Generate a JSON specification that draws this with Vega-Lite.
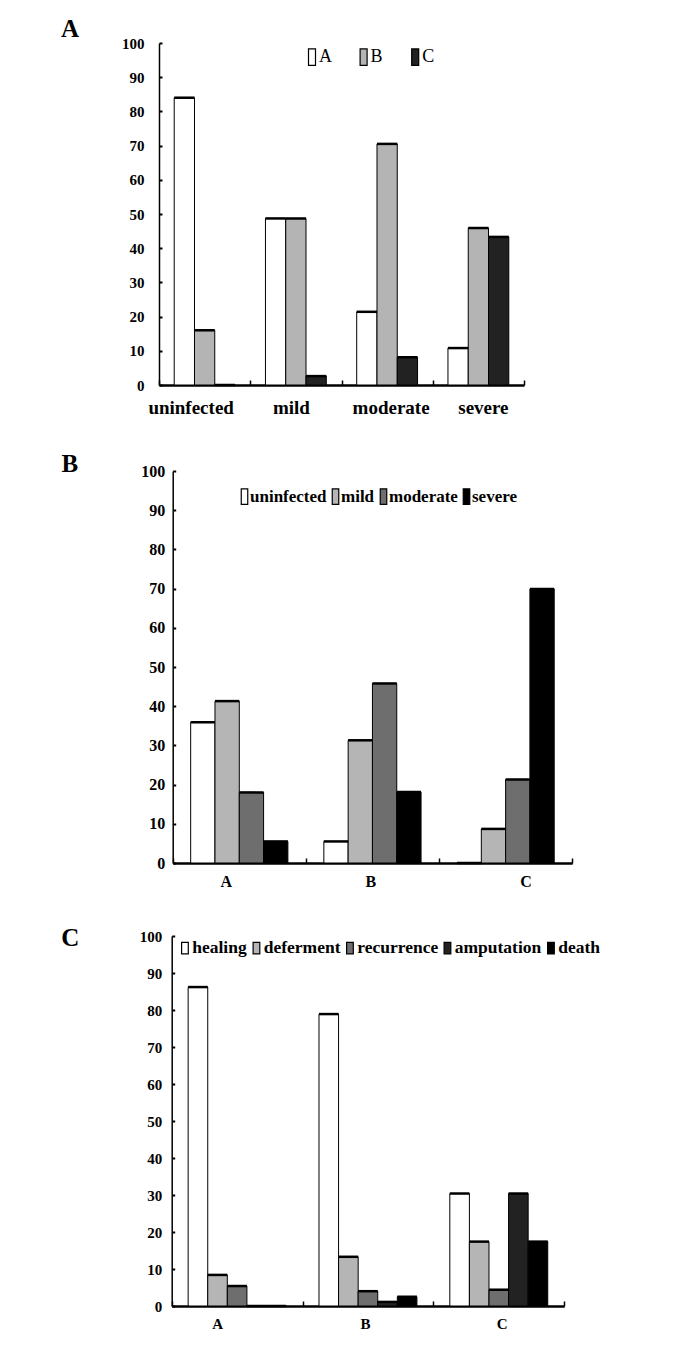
{
  "$schema": "https://vega.github.io/schema/vega-lite/v6.json",
  "padding": {"left": 60, "top": 16, "right": 0, "bottom": 0},
  "columns": 1,
  "align": "none",
  "spacing": 33,
  "resolve": {
    "scale": {"x": "independent", "y": "independent", "xOffset": "independent", "fill": "independent"},
    "axis": {"x": "independent", "y": "independent"},
    "legend": {"fill": "independent"}
  },
  "datasets": {
    "panelA": [
      {"group": "uninfected", "series": "A", "value": 84.0},
      {"group": "uninfected", "series": "B", "value": 16.0},
      {"group": "uninfected", "series": "C", "value": 0},
      {"group": "mild", "series": "A", "value": 48.7},
      {"group": "mild", "series": "B", "value": 48.7},
      {"group": "mild", "series": "C", "value": 2.6},
      {"group": "moderate", "series": "A", "value": 21.4},
      {"group": "moderate", "series": "B", "value": 70.5},
      {"group": "moderate", "series": "C", "value": 8.1},
      {"group": "severe", "series": "A", "value": 10.8},
      {"group": "severe", "series": "B", "value": 45.9},
      {"group": "severe", "series": "C", "value": 43.3}
    ],
    "panelB": [
      {"group": "A", "series": "uninfected", "value": 35.9},
      {"group": "A", "series": "mild", "value": 41.3},
      {"group": "A", "series": "moderate", "value": 18.0},
      {"group": "A", "series": "severe", "value": 5.5},
      {"group": "B", "series": "uninfected", "value": 5.5},
      {"group": "B", "series": "mild", "value": 31.3},
      {"group": "B", "series": "moderate", "value": 45.8},
      {"group": "B", "series": "severe", "value": 18.1},
      {"group": "C", "series": "uninfected", "value": 0},
      {"group": "C", "series": "mild", "value": 8.7},
      {"group": "C", "series": "moderate", "value": 21.3},
      {"group": "C", "series": "severe", "value": 69.9}
    ],
    "panelC": [
      {"group": "A", "series": "healing", "value": 86.2},
      {"group": "A", "series": "deferment", "value": 8.4},
      {"group": "A", "series": "recurrence", "value": 5.4},
      {"group": "A", "series": "amputation", "value": 0},
      {"group": "A", "series": "death", "value": 0},
      {"group": "B", "series": "healing", "value": 78.9},
      {"group": "B", "series": "deferment", "value": 13.3},
      {"group": "B", "series": "recurrence", "value": 4.0},
      {"group": "B", "series": "amputation", "value": 1.1},
      {"group": "B", "series": "death", "value": 2.5},
      {"group": "C", "series": "healing", "value": 30.4},
      {"group": "C", "series": "deferment", "value": 17.4},
      {"group": "C", "series": "recurrence", "value": 4.4},
      {"group": "C", "series": "amputation", "value": 30.4},
      {"group": "C", "series": "death", "value": 17.4}
    ]
  },
  "concat": [
    {
      "width": 365,
      "height": 342,
      "data": {"name": "panelA"},
      "encoding": {
        "x": {
          "field": "group", "type": "nominal",
          "sort": ["uninfected", "mild", "moderate", "severe"],
          "scale": {"paddingInner": 0, "paddingOuter": 0},
          "axis": {
            "title": null, "labelAngle": 0, "tickBand": "extent",
            "labelOffset": {
              "condition": [
                {"test": "datum.value === 'uninfected'", "value": -14},
                {"test": "datum.value === 'mild'", "value": -5},
                {"test": "datum.value === 'moderate'", "value": 3.5}
              ],
              "value": 4.5
            },
            "tickSize": -5, "tickWidth": 1.5, "tickColor": "black", "labelPadding": 18.7,
            "labelFont": "Liberation Serif", "labelFontSize": 19, "labelFontWeight": "bold", "labelColor": "black",
            "domainColor": "black", "domainWidth": 2.5
          }
        },
        "xOffset": {
          "field": "series", "type": "nominal", "sort": ["A", "B", "C"],
          "scale": {"paddingInner": 0, "paddingOuter": 0.75}
        },
        "y": {
          "field": "value", "type": "quantitative",
          "scale": {"domain": [0, 100], "nice": false},
          "axis": {
            "values": [0, 10, 20, 30, 40, 50, 60, 70, 80, 90, 100],
            "title": "A", "titleAngle": 0, "titleAlign": "left", "titleBaseline": "alphabetic",
            "titleX": -98.6, "titleY": -6.3, "titleFont": "Liberation Serif", "titleFontSize": 25,
            "titleFontWeight": "bold", "titleColor": "black",
            "labelFont": "Liberation Serif", "labelFontSize": 15, "labelFontWeight": "bold", "labelColor": "black",
            "tickSize": -3, "tickWidth": 2, "tickColor": "black", "labelPadding": 18,
            "domainColor": "black", "domainWidth": 1.5, "grid": false
          }
        }
      },
      "layer": [
        {
          "mark": {"type": "bar", "stroke": "black", "strokeWidth": 1},
          "encoding": {
            "fill": {
              "field": "series", "type": "nominal",
              "scale": {"domain": ["A", "B", "C"], "range": ["#ffffff", "#b4b4b4", "#222222"]},
              "legend": {
                "title": null, "orient": "none", "legendX": 144, "legendY": 5, "direction": "horizontal",
                "columns": 3, "symbolType": "M-1,-2.35H1V2.35H-1Z", "symbolSize": 49,
                "symbolStrokeColor": "black", "symbolStrokeWidth": 1.2, "symbolOpacity": 1,
                "labelFont": "Liberation Serif", "labelFontSize": 18, "labelFontWeight": "normal",
                "labelColor": "black", "labelOffset": -2, "columnPadding": 22.6, "gridAlign": "all", "padding": 0
              }
            }
          }
        },
        {"mark": {"type": "tick", "color": "black", "thickness": 2.5, "size": 20.3, "opacity": 1}}
      ]
    },
    {
      "width": 413.2,
      "height": 392,
      "data": {"name": "panelB"},
      "encoding": {
        "x": {
          "field": "group", "type": "nominal", "sort": ["A", "B", "C"],
          "scale": {"paddingInner": 0, "paddingOuter": 0, "range": [13.7, 413.2]},
          "axis": {
            "title": null, "labelAngle": 0, "tickBand": "extent", "minExtent": 29,
            "labelOffset": {
              "condition": [
                {"test": "datum.value === 'A'", "value": -13.5},
                {"test": "datum.value === 'B'", "value": -2}
              ],
              "value": 20
            },
            "tickSize": -5, "tickWidth": 1.5, "tickColor": "black", "labelPadding": 15,
            "labelFont": "Liberation Serif", "labelFontSize": 16, "labelFontWeight": "bold", "labelColor": "black",
            "domainColor": "black", "domainWidth": 2.5
          }
        },
        "xOffset": {
          "field": "series", "type": "nominal", "sort": ["uninfected", "mild", "moderate", "severe"],
          "scale": {"paddingInner": 0, "paddingOuter": 0.74}
        },
        "y": {
          "field": "value", "type": "quantitative",
          "scale": {"domain": [0, 100], "nice": false},
          "axis": {
            "values": [0, 10, 20, 30, 40, 50, 60, 70, 80, 90, 100], "offset": -13.7,
            "title": "B", "titleAngle": 0, "titleAlign": "left", "titleBaseline": "alphabetic",
            "titleX": -111.7, "titleY": 0, "titleFont": "Liberation Serif", "titleFontSize": 25,
            "titleFontWeight": "bold", "titleColor": "black",
            "labelFont": "Liberation Serif", "labelFontSize": 16, "labelFontWeight": "bold", "labelColor": "black",
            "tickSize": -3, "tickWidth": 2, "tickColor": "black", "labelPadding": 11,
            "domainColor": "black", "domainWidth": 1.5, "grid": false
          }
        }
      },
      "layer": [
        {
          "mark": {"type": "bar", "stroke": "black", "strokeWidth": 1},
          "encoding": {
            "fill": {
              "field": "series", "type": "nominal",
              "scale": {"domain": ["uninfected", "mild", "moderate", "severe"], "range": ["#ffffff", "#b5b5b5", "#6e6e6e", "#000000"]},
              "legend": {
                "title": null, "orient": "none", "legendX": 77, "legendY": 17, "direction": "horizontal",
                "columns": 4, "symbolType": "M-1,-2.4H1V2.4H-1Z", "symbolSize": 42.25,
                "symbolStrokeColor": "black", "symbolStrokeWidth": 1.2, "symbolOpacity": 1,
                "labelFont": "Liberation Serif", "labelFontSize": 17, "labelFontWeight": "bold",
                "labelColor": "black", "labelOffset": -3, "columnPadding": 0, "padding": 0
              }
            }
          }
        },
        {"mark": {"type": "tick", "color": "black", "thickness": 2.5, "size": 24.3, "opacity": 1}}
      ]
    },
    {
      "width": 405.2,
      "height": 370,
      "data": {"name": "panelC"},
      "encoding": {
        "x": {
          "field": "group", "type": "nominal", "sort": ["A", "B", "C"],
          "scale": {"paddingInner": 0, "paddingOuter": 0, "range": [12.7, 405.2]},
          "axis": {
            "title": null, "labelAngle": 0, "tickBand": "extent",
            "labelOffset": {
              "condition": [
                {"test": "datum.value === 'A'", "value": -20},
                {"test": "datum.value === 'B'", "value": -3}
              ],
              "value": 3
            },
            "tickSize": -5, "tickWidth": 1.5, "tickColor": "black", "labelPadding": 15,
            "labelFont": "Liberation Serif", "labelFontSize": 15, "labelFontWeight": "bold", "labelColor": "black",
            "domainColor": "black", "domainWidth": 2.5
          }
        },
        "xOffset": {
          "field": "series", "type": "nominal", "sort": ["healing", "deferment", "recurrence", "amputation", "death"],
          "scale": {"paddingInner": 0, "paddingOuter": 0.84}
        },
        "y": {
          "field": "value", "type": "quantitative",
          "scale": {"domain": [0, 100], "nice": false},
          "axis": {
            "values": [0, 10, 20, 30, 40, 50, 60, 70, 80, 90, 100], "offset": -12.7,
            "title": "C", "titleAngle": 0, "titleAlign": "left", "titleBaseline": "alphabetic",
            "titleX": -111, "titleY": 9.3, "titleFont": "Liberation Serif", "titleFontSize": 25,
            "titleFontWeight": "bold", "titleColor": "black",
            "labelFont": "Liberation Serif", "labelFontSize": 15, "labelFontWeight": "bold", "labelColor": "black",
            "tickSize": -3, "tickWidth": 2, "tickColor": "black", "labelPadding": 13,
            "domainColor": "black", "domainWidth": 1.5, "grid": false
          }
        }
      },
      "layer": [
        {
          "mark": {"type": "bar", "stroke": "black", "strokeWidth": 1},
          "encoding": {
            "fill": {
              "field": "series", "type": "nominal",
              "scale": {"domain": ["healing", "deferment", "recurrence", "amputation", "death"], "range": ["#ffffff", "#b5b5b5", "#6e6e6e", "#222222", "#000000"]},
              "legend": {
                "title": null, "orient": "none", "legendX": 17.2, "legendY": 3, "direction": "horizontal",
                "columns": 5, "symbolType": "M-1,-1.72H1V1.72H-1Z", "symbolSize": 44.9,
                "symbolStrokeColor": "black", "symbolStrokeWidth": 1.2, "symbolOpacity": 1,
                "labelFont": "Liberation Serif", "labelFontSize": 17.5, "labelFontWeight": "bold",
                "labelColor": "black", "labelOffset": -1.5, "columnPadding": 0.5, "padding": 0
              }
            }
          }
        },
        {"mark": {"type": "tick", "color": "black", "thickness": 2.5, "size": 19.6, "opacity": 1}}
      ]
    }
  ],
  "config": {
    "view": {"stroke": null},
    "font": "Liberation Serif",
    "axis": {"grid": false}
  }
}
